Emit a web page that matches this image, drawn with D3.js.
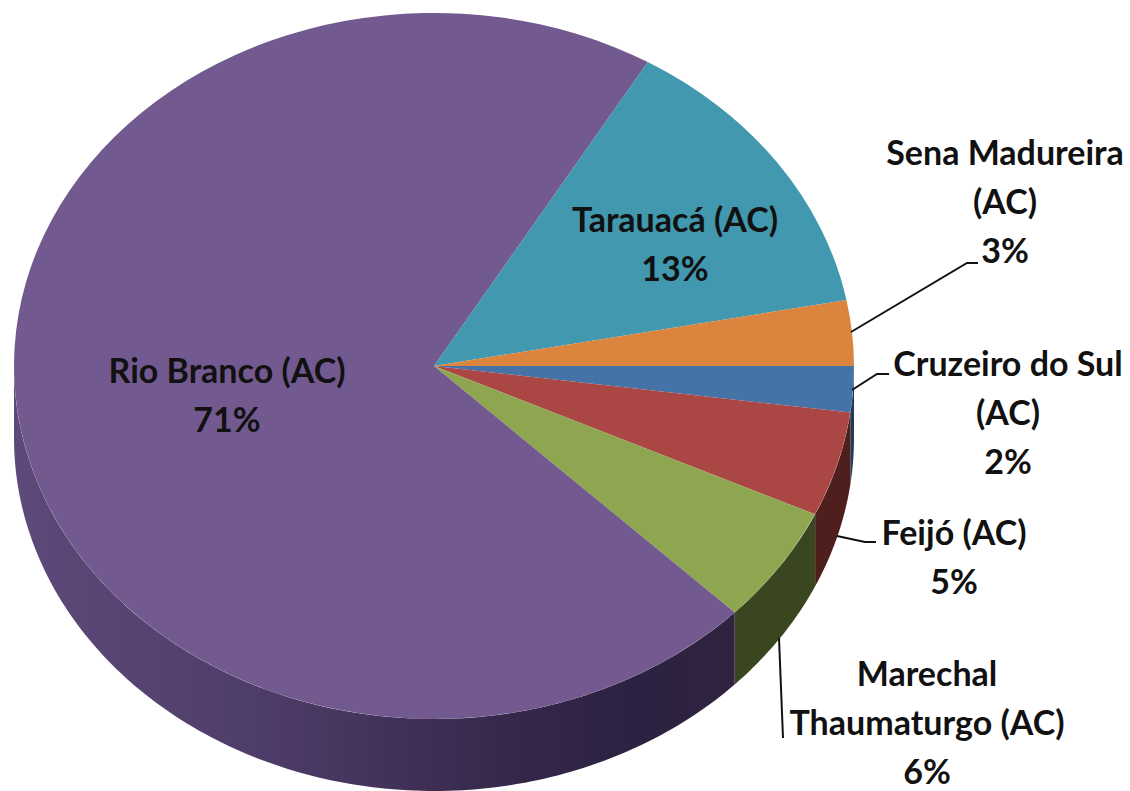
<!DOCTYPE html>
<html><head><meta charset="utf-8">
<script src="https://cdn.jsdelivr.net/npm/d3@7"></script>
<style>html,body{margin:0;padding:0;background:#fff}svg{display:block}
text{font-family:Lato,"Open Sans",sans-serif;font-weight:700;font-size:34px;fill:#111;text-anchor:middle}</style>
</head><body><svg id="c" width="1130" height="791"></svg>
<script>
const categories=["Cruzeiro do Sul (AC)","Feijó (AC)","Marechal Thaumaturgo (AC)","Rio Branco (AC)","Tarauacá (AC)","Sena Madureira (AC)"];
const values=[2.1,4.8,5.4,71.2,13.5,3.0];
const topColors=["#4572a7","#aa4643","#8ea64f","#72598f","#4198af","#db843d"];
const wallColors=["#223a57","#4f1f1d","#3a4620","#3f3052","#20505c","#6d421e"];
const labelLines=[["Cruzeiro do Sul","(AC)","2%"],["Feijó (AC)","5%"],["Marechal","Thaumaturgo (AC)","6%"],["Rio Branco (AC)","71%"],["Tarauacá (AC)","13%"],["Sena Madureira","(AC)","3%"]];
const labelX=[1008,954,927,227,675,1005];
const labelY=[376,545,686,383,232,165];
const leaders=[[[852,390],[877,374],[889,374]],[[837,536],[865,542],[876,542]],[[779,638],[783,738]],null,null,[[851,332],[967,263],[978,263]]];

const cx=434,cy=366,rx=420,ry=353,depth=72,lineH=49;
const svg=d3.select("#c");
const defs=svg.append("defs");
const g=defs.append("linearGradient").attr("id","wallRB").attr("gradientUnits","userSpaceOnUse")
 .attr("x1",cx-rx).attr("x2",cx+rx*0.72).attr("y1",0).attr("y2",0);
[[0,"#5e4a7a"],[0.35,"#4e3c68"],[0.7,"#35274a"],[0.87,"#2c2140"],[1,"#2f2340"]].forEach(s=>g.append("stop").attr("offset",s[0]).attr("stop-color",s[1]));

const pie=d3.pie().sort(null).value(d=>d).startAngle(Math.PI/2).endAngle(Math.PI/2+2*Math.PI);
const arcs=pie(values);
const arc=d3.arc().innerRadius(0).outerRadius(1);
const sx=d3.scaleLinear().domain([-1,1]).range([cx-rx,cx+rx]);
const sy=d3.scaleLinear().domain([-1,1]).range([cy-ry,cy+ry]);
const ex=a=>sx(Math.sin(a)), ey=a=>sy(-Math.cos(a));

const wallPath=(a0,a1)=>{
  const s=Math.max(a0,Math.PI/2), e=Math.min(a1,3*Math.PI/2);
  if(e<=s) return null;
  const n=Math.max(4,Math.ceil((e-s)*60));
  const angs=d3.range(n+1).map(i=>s+(e-s)*i/n);
  const pts=angs.map(a=>[ex(a),ey(a)]).concat(angs.slice().reverse().map(a=>[ex(a),ey(a)+depth]));
  return d3.line()(pts)+"Z";
};
svg.append("g").selectAll("path").data(arcs).join("path")
 .attr("d",d=>wallPath(d.startAngle,d.endAngle))
 .attr("fill",(d,i)=>i===3?"url(#wallRB)":wallColors[i]);

svg.append("g").attr("transform",`translate(${cx},${cy}) scale(${rx},${ry})`)
 .selectAll("path").data(arcs).join("path").attr("d",arc)
 .attr("fill",(d,i)=>topColors[i]);

svg.append("g").selectAll("path").data(leaders.filter(Boolean)).join("path")
 .attr("d",d3.line()).attr("fill","none").attr("stroke","#111").attr("stroke-width",2);

const lg=svg.append("g");
labelLines.forEach((ls,i)=>{
  const t=lg.append("text").attr("x",labelX[i]).attr("y",labelY[i]);
  ls.forEach((l,j)=>t.append("tspan").attr("x",labelX[i]).attr("y",labelY[i]+j*lineH).text(l));
});
</script></body></html>
